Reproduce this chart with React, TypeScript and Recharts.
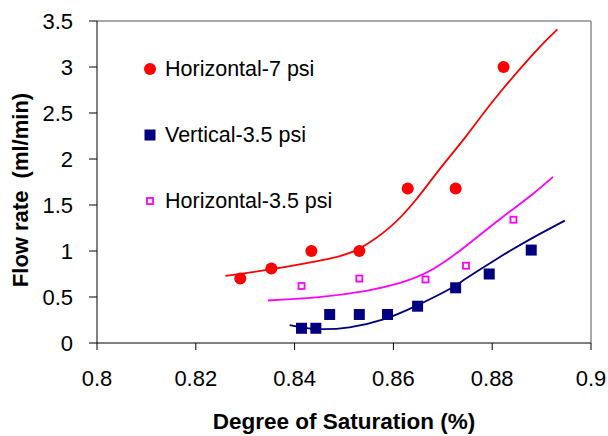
import {
  ComposedChart,
  Legend,
  Line,
  ReferenceLine,
  Scatter,
  XAxis,
  YAxis,
} from "recharts";

const FONT = "'Liberation Sans', Arial, sans-serif";

// measured points
const horizontal7 = [
  { x: 0.829, y: 0.7 },
  { x: 0.8353, y: 0.81 },
  { x: 0.8434, y: 1.0 },
  { x: 0.8531, y: 1.0 },
  { x: 0.8629, y: 1.68 },
  { x: 0.8726, y: 1.68 },
  { x: 0.8823, y: 3.0 },
];

const vertical35 = [
  { x: 0.8414, y: 0.16 },
  { x: 0.8443, y: 0.16 },
  { x: 0.8471, y: 0.31 },
  { x: 0.8531, y: 0.31 },
  { x: 0.8588, y: 0.31 },
  { x: 0.8649, y: 0.4 },
  { x: 0.8726, y: 0.6 },
  { x: 0.8794, y: 0.75 },
  { x: 0.8879, y: 1.01 },
];

const horizontal35 = [
  { x: 0.8414, y: 0.62 },
  { x: 0.8531, y: 0.7 },
  { x: 0.8665, y: 0.69 },
  { x: 0.8747, y: 0.84 },
  { x: 0.8843, y: 1.34 },
];

// trend lines
const horizontal7Fit = [
  { x: 0.826, y: 0.73 },
  { x: 0.835, y: 0.8 },
  { x: 0.8471, y: 0.918 },
  { x: 0.8531, y: 1.026 },
  { x: 0.8592, y: 1.254 },
  { x: 0.8646, y: 1.56 },
  { x: 0.8693, y: 1.885 },
  { x: 0.8747, y: 2.246 },
  { x: 0.8801, y: 2.625 },
  { x: 0.8881, y: 3.13 },
  { x: 0.8932, y: 3.41 },
];

const vertical35Fit = [
  { x: 0.839, y: 0.195 },
  { x: 0.8444, y: 0.152 },
  { x: 0.8511, y: 0.17 },
  { x: 0.8578, y: 0.253 },
  { x: 0.8646, y: 0.404 },
  { x: 0.8713, y: 0.585 },
  { x: 0.8747, y: 0.7 },
  { x: 0.8814, y: 0.93 },
  { x: 0.8881, y: 1.14 },
  { x: 0.8947, y: 1.33 },
];

const horizontal35Fit = [
  { x: 0.8346, y: 0.462 },
  { x: 0.8444, y: 0.495 },
  { x: 0.8545, y: 0.567 },
  { x: 0.8612, y: 0.65 },
  { x: 0.8676, y: 0.79 },
  { x: 0.8747, y: 1.055 },
  { x: 0.8814, y: 1.34 },
  { x: 0.8881, y: 1.615 },
  { x: 0.8923, y: 1.805 },
];

const xTicks = [0.8, 0.82, 0.84, 0.86, 0.88, 0.9];
const yTicks = [0, 0.5, 1, 1.5, 2, 2.5, 3, 3.5];

const RED = "#FF0000";
const NAVY = "#000080";
const MAGENTA = "#FF00FF";

const legendItems = [
  { name: "Horizontal-7 psi", kind: "circle" },
  { name: "Vertical-3.5 psi", kind: "square" },
  { name: "Horizontal-3.5 psi", kind: "open" },
];

const Circle = (props: any) => (
  <circle cx={props.cx} cy={props.cy} r={6} fill={RED} />
);

const Square = (props: any) => (
  <rect x={props.cx - 5.5} y={props.cy - 5.5} width={11} height={11} fill={NAVY} />
);

const OpenSquare = (props: any) => (
  <rect
    x={props.cx - 3}
    y={props.cy - 3}
    width={6}
    height={6}
    fill="#fff"
    stroke={MAGENTA}
    strokeWidth={1.8}
  />
);

const marker = (kind: string) => {
  if (kind === "circle") return <Circle cx={7} cy={7} />;
  if (kind === "square") return <Square cx={7} cy={7} />;
  return <OpenSquare cx={7} cy={7} />;
};

const renderLegend = () => (
  <div style={{ fontFamily: FONT, fontSize: 21.5, color: "#000" }}>
    {legendItems.map((item) => (
      <div
        key={item.name}
        style={{ display: "flex", alignItems: "center", height: 66 }}
      >
        <svg width={14} height={14} style={{ marginRight: 8 }}>
          {marker(item.kind)}
        </svg>
        <span>{item.name}</span>
      </div>
    ))}
  </div>
);

const App = () => {
  return (
    <div
      style={{
        position: "absolute",
        left: 0,
        top: 0,
        width: 608,
        height: 436,
        background: "#fff",
      }}
    >
      <ComposedChart
        width={608}
        height={436}
        margin={{ top: 21, right: 17, bottom: 0, left: 0 }}
      >
        <XAxis
          dataKey="x"
          type="number"
          domain={[0.8, 0.9]}
          ticks={xTicks}
          height={93}
          tickSize={7}
          tickMargin={20}
          axisLine={{ stroke: "#000" }}
          tickLine={{ stroke: "#000" }}
          tick={{ fill: "#000", fontSize: 22, fontFamily: FONT }}
          label={{
            content: () => (
              <text
                x={344}
                y={421}
                textAnchor="middle"
                dominantBaseline="central"
                fontFamily={FONT}
                fontWeight="bold"
                fontSize={22.5}
                fill="#000"
              >
                Degree of Saturation (%)
              </text>
            ),
          }}
        />
        <YAxis
          dataKey="y"
          type="number"
          domain={[0, 3.5]}
          ticks={yTicks}
          width={97}
          tickSize={8}
          tickMargin={16}
          axisLine={{ stroke: "#000" }}
          tickLine={{ stroke: "#000" }}
          tick={{ fill: "#000", fontSize: 22, fontFamily: FONT }}
          label={{
            content: () => (
              <text
                x={20}
                y={190}
                transform="rotate(-90, 20, 190)"
                textAnchor="middle"
                dominantBaseline="central"
                fontFamily={FONT}
                fontWeight="bold"
                fontSize={22}
                fill="#000"
                style={{ whiteSpace: "pre" }}
              >
                Flow rate  (ml/min)
              </text>
            ),
          }}
        />
        <ReferenceLine y={3.5} stroke="#8c8c8c" strokeWidth={1.5} />
        <ReferenceLine x={0.9} stroke="#8c8c8c" strokeWidth={1.5} />
        <Legend
          layout="vertical"
          align="center"
          verticalAlign="middle"
          content={renderLegend}
          wrapperStyle={{ position: "absolute", left: 143, top: 36, width: 260 }}
        />
        <Line
          data={horizontal7Fit}
          dataKey="y"
          type="natural"
          stroke={RED}
          strokeWidth={1.8}
          dot={false}
          legendType="none"
          isAnimationActive={false}
        />
        <Line
          data={horizontal35Fit}
          dataKey="y"
          type="natural"
          stroke={MAGENTA}
          strokeWidth={1.8}
          dot={false}
          legendType="none"
          isAnimationActive={false}
        />
        <Line
          data={vertical35Fit}
          dataKey="y"
          type="natural"
          stroke={NAVY}
          strokeWidth={1.8}
          dot={false}
          legendType="none"
          isAnimationActive={false}
        />
        <Scatter
          name="Horizontal-7 psi"
          data={horizontal7}
          dataKey="y"
          shape={Circle}
          isAnimationActive={false}
        />
        <Scatter
          name="Vertical-3.5 psi"
          data={vertical35}
          dataKey="y"
          shape={Square}
          isAnimationActive={false}
        />
        <Scatter
          name="Horizontal-3.5 psi"
          data={horizontal35}
          dataKey="y"
          shape={OpenSquare}
          isAnimationActive={false}
        />
      </ComposedChart>
    </div>
  );
};

export default App;
